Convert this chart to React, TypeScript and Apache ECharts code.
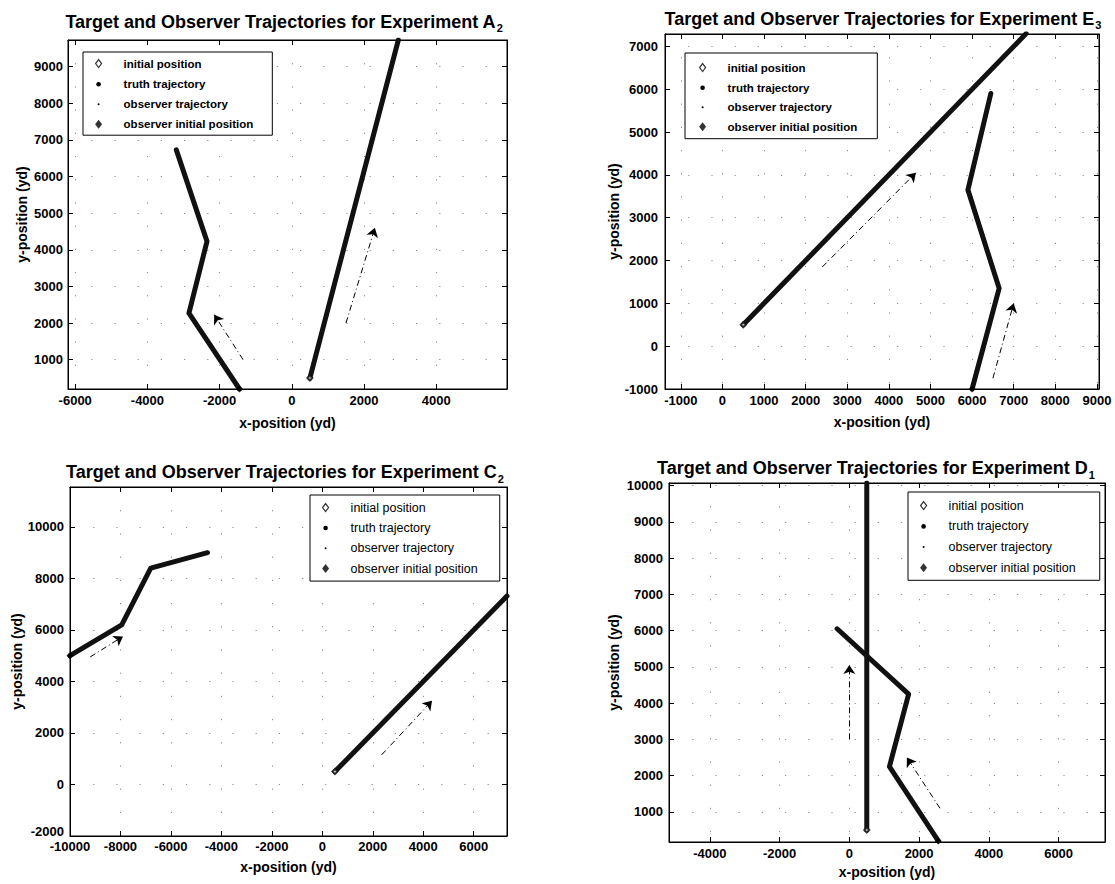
import React, { useEffect, useRef } from 'react';
import * as echarts from 'echarts';

// ---------- data ----------
const legendNames = ['initial position', 'truth trajectory', 'observer trajectory', 'observer initial position'];
const panelLetters = ['A', 'E', 'C', 'D'];
const panelSubscripts = ['2', '3', '2', '1'];
const titlePrefix = 'Target and Observer Trajectories for Experiment ';
const xAxisName = 'x-position (yd)';
const yAxisName = 'y-position (yd)';

// Experiment A2
const targetA = [[500, 500], [2950, 9730]];
const observerA = [[-1450, 200], [-2850, 2270], [-2350, 4230], [-3200, 6730]];
const arrowsA = [[[-1350, 1000], [-2150, 2230]], [[1500, 2000], [2300, 4600]]];
const xRangeA = [-6200, 5960];
const yRangeA = [200, 9730];
const xStepA = 2000;
const yStepA = 1000;

// Experiment E3
const targetE = [[500, 500], [7300, 7300]];
const observerE = [[6000, -1000], [6650, 1350], [5900, 3650], [6450, 5900]];
const arrowsE = [[[2400, 1850], [4650, 4050]], [[6500, -750], [7000, 1000]]];
const xRangeE = [-1380, 9050];
const yRangeE = [-1000, 7290];
const xStepE = 1000;
const yStepE = 1000;

// Experiment C2
const targetC = [[500, 500], [7320, 7320]];
const observerC = [[-10000, 5000], [-7950, 6200], [-6800, 8400], [-4550, 9000]];
const arrowsC = [[[-9200, 4950], [-7900, 5750]], [[2350, 1150], [4350, 3250]]];
const xRangeC = [-10000, 7320];
const yRangeC = [-2000, 11550];
const xStepC = 2000;
const yStepC = 2000;

// Experiment D1
const targetD = [[500, 500], [500, 10070]];
const observerD = [[2550, 200], [1150, 2250], [1700, 4250], [-350, 6050]];
const arrowsD = [[[0, 3000], [0, 5050]], [[2600, 1100], [1650, 2500]]];
const xRangeD = [-5170, 7330];
const yRangeD = [170, 10070];
const xStepD = 2000;
const yStepD = 1000;

const panelData = [
  { target: targetA, observer: observerA, arrows: arrowsA, xRange: xRangeA, yRange: yRangeA, xStep: xStepA, yStep: yStepA },
  { target: targetE, observer: observerE, arrows: arrowsE, xRange: xRangeE, yRange: yRangeE, xStep: xStepE, yStep: yStepE },
  { target: targetC, observer: observerC, arrows: arrowsC, xRange: xRangeC, yRange: yRangeC, xStep: xStepC, yStep: yStepC },
  { target: targetD, observer: observerD, arrows: arrowsD, xRange: xRangeD, yRange: yRangeD, xStep: xStepD, yStep: yStepD },
];

// ---------- layout ----------
const FONT = "'Liberation Sans', Arial, Helvetica, sans-serif";
const layouts = [
  { grid: { left: 68, top: 40, width: 439, height: 349 }, titleX: 284, titleY: 9.5,
    legend: { left: 83, top: 52, padding: [5, 19, 5, 9], gap: 8 }, legendBold: true, legendSize: 11.5,
    xNameGap: 27, yNameGap: 39, xMargin: 5, yMargin: 5, liftMinY: false },
  { grid: { left: 665, top: 34, width: 434, height: 355 }, titleX: 883, titleY: 6.5,
    legend: { left: 685, top: 53, padding: [8, 20, 6, 11], gap: 7.5 }, legendBold: true, legendSize: 11.5,
    xNameGap: 26, yNameGap: 43, xMargin: 5, yMargin: 7, liftMinY: false },
  { grid: { left: 70, top: 487, width: 437, height: 349 }, titleX: 285, titleY: 460,
    legend: { left: 310, top: 495, padding: [6, 22, 6, 9], gap: 7.3 }, legendBold: false, legendSize: 12.5,
    xNameGap: 24, yNameGap: 46, xMargin: 4, yMargin: 6, liftMinY: true },
  { grid: { left: 669, top: 483, width: 436, height: 359 }, titleX: 876, titleY: 456,
    legend: { left: 908, top: 492, padding: [7, 24, 6, 9], gap: 7.7 }, legendBold: false, legendSize: 12.5,
    xNameGap: 23, yNameGap: 48, xMargin: 5, yMargin: 6, liftMinY: false },
];

const box = 'M-6,-6L-6,-6M6,6L6,6';
const legendIcons = [
  `path://${box}M0,-4L3,0L0,4L-3,0Z`,
  `path://${box}M-2.3,0A2.3,2.3,0,1,0,2.3,0A2.3,2.3,0,1,0,-2.3,0Z`,
  `path://${box}M-1,0A1,1,0,1,0,1,0A1,1,0,1,0,-1,0Z`,
  `path://${box}M0,-4.5L3.5,0L0,4.5L-3.5,0Z`,
];
const legendItemStyles = [
  { color: '#fff', borderColor: '#000', borderWidth: 1.2 },
  { color: '#000', borderWidth: 0 },
  { color: '#000', borderWidth: 0 },
  { color: '#000', borderWidth: 0 },
];

function buildOption() {
  const grid: any[] = [];
  const xAxis: any[] = [];
  const yAxis: any[] = [];
  const series: any[] = [];
  const title: any[] = [];
  const legend: any[] = [];

  const labelStyle = { fontSize: 13, fontWeight: 'bold', color: '#000', fontFamily: FONT };
  const nameStyle = { fontSize: 14, fontWeight: 'bold', color: '#000', fontFamily: FONT };
  const splitLine = { show: true, lineStyle: { color: '#8c8c8c', width: 1, type: [1.2, 22] } };
  const axisLine = { show: true, onZero: false, lineStyle: { color: '#000', width: 1 } };
  const axisTick = { show: true, inside: true, length: 5, lineStyle: { color: '#000', width: 1 } };
  const plain = (v: number) => String(v);

  panelData.forEach((p, i) => {
    const L = layouts[i];
    grid.push({ ...L.grid, show: true, borderColor: '#000', borderWidth: 1, backgroundColor: '#fff', containLabel: false, outerBoundsMode: 'none' });
    const xSplit = Math.round((p.xRange[1] - p.xRange[0]) / p.xStep);
    const ySplit = Math.round((p.yRange[1] - p.yRange[0]) / p.yStep);
    const xCommon = { type: 'value', gridIndex: i, min: p.xRange[0], max: p.xRange[1], splitNumber: xSplit };
    const yCommon = { type: 'value', gridIndex: i, min: p.yRange[0], max: p.yRange[1], splitNumber: ySplit };
    const yMin = p.yRange[0];
    xAxis.push({
      ...xCommon, position: 'bottom', axisLine, axisTick, splitLine,
      axisLabel: { ...labelStyle, formatter: plain, margin: L.xMargin, showMinLabel: p.xRange[0] % p.xStep === 0, showMaxLabel: p.xRange[1] % p.xStep === 0 },
      name: xAxisName, nameLocation: 'middle', nameGap: L.xNameGap, nameTextStyle: nameStyle,
    });
    xAxis.push({ ...xCommon, position: 'top', axisLine, axisTick, splitLine: { show: false }, axisLabel: { show: false } });
    yAxis.push({
      ...yCommon, position: 'left', axisLine, axisTick, splitLine,
      axisLabel: {
        ...labelStyle, margin: L.yMargin,
        formatter: (v: number) => (L.liftMinY && v === yMin ? `{lo|${v}}` : String(v)),
        rich: { lo: { ...labelStyle, padding: [0, 0, 9, 0] } },
        showMinLabel: p.yRange[0] % p.yStep === 0, showMaxLabel: p.yRange[1] % p.yStep === 0,
      },
      name: yAxisName, nameLocation: 'middle', nameGap: L.yNameGap, nameTextStyle: nameStyle,
    });
    yAxis.push({ ...yCommon, position: 'right', axisLine, axisTick, splitLine: { show: false }, axisLabel: { show: false } });

    const xi = 2 * i;
    const yi = 2 * i;
    series.push({
      type: 'line', name: legendNames[1], xAxisIndex: xi, yAxisIndex: yi, data: p.target,
      symbol: 'none', lineStyle: { color: '#111', width: 5, cap: 'round', join: 'round' }, z: 3, clip: true,
    });
    series.push({
      type: 'line', name: legendNames[2], xAxisIndex: xi, yAxisIndex: yi, data: p.observer,
      symbol: 'none', lineStyle: { color: '#111', width: 5, cap: 'round', join: 'round' }, z: 3, clip: true,
    });
    series.push({
      type: 'scatter', name: legendNames[0], xAxisIndex: xi, yAxisIndex: yi, data: [p.target[0]],
      symbol: 'emptyDiamond', symbolSize: 5, itemStyle: { color: '#111', borderColor: '#111', borderWidth: 2.5 }, z: 4,
    });
    series.push({
      type: 'scatter', name: legendNames[3], xAxisIndex: xi, yAxisIndex: yi, data: [p.observer[0]],
      symbol: 'diamond', symbolSize: 7, itemStyle: { color: '#000' }, z: 4,
    });
    series.push({
      type: 'lines', name: 'heading', coordinateSystem: 'cartesian2d', xAxisIndex: xi, yAxisIndex: yi,
      data: p.arrows.map((a) => ({ coords: a })),
      symbol: ['none', 'arrow'], symbolSize: 9,
      lineStyle: { color: '#000', width: 1, type: [6, 3, 1, 3], opacity: 1, curveness: 0 }, z: 2,
    });

    title.push({
      text: `${titlePrefix}${panelLetters[i]}{sub|${panelSubscripts[i]}}`,
      left: L.titleX, top: L.titleY, textAlign: 'center', padding: 0,
      textStyle: {
        fontSize: 18, fontWeight: 'bold', color: '#000', fontFamily: FONT, lineHeight: 24,
        rich: { sub: { fontSize: 11, fontWeight: 'bold', color: '#000', fontFamily: FONT, verticalAlign: 'bottom', lineHeight: 11, padding: [0, 0, 0, 1] } },
      },
    });

    legend.push({
      show: true, orient: 'vertical', left: L.legend.left, top: L.legend.top, padding: L.legend.padding,
      itemGap: L.legend.gap, itemWidth: 40, itemHeight: 12, symbolKeepAspect: true,
      borderColor: '#000', borderWidth: 1, backgroundColor: '#fff', selectedMode: false,
      textStyle: { fontSize: L.legendSize, fontWeight: L.legendBold ? 'bold' : 'normal', color: '#000', fontFamily: FONT, lineHeight: 12 },
      data: legendNames.map((n, k) => ({ name: n, icon: legendIcons[k], itemStyle: legendItemStyles[k] })),
    });
  });

  return { animation: false, backgroundColor: '#fff', grid, xAxis, yAxis, series, title, legend };
}

export default function App() {
  const ref = useRef<HTMLDivElement>(null);
  useEffect(() => {
    if (!ref.current) return;
    const chart = echarts.init(ref.current, undefined, { renderer: 'svg' });
    chart.setOption(buildOption() as any);
    return () => chart.dispose();
  }, []);
  return <div ref={ref} style={{ position: 'fixed', left: 0, top: 0, width: 1115, height: 884, background: '#fff' }} />;
}
